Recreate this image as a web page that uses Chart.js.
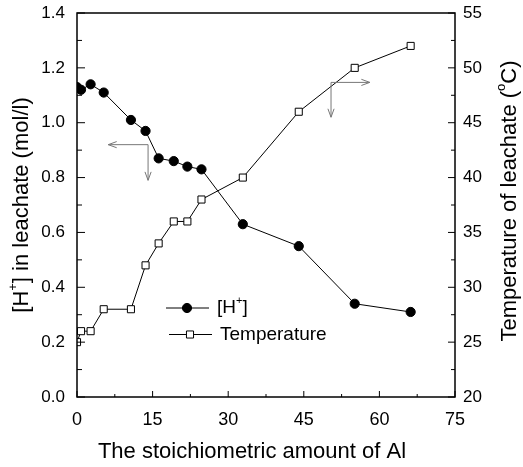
<!DOCTYPE html>
<html>
<head>
<meta charset="utf-8">
<style>
  html, body { margin: 0; padding: 0; background: #fff; }
  #wrap { width: 523px; height: 467px; }
</style>
</head>
<body>
<div id="wrap"><canvas id="chart"></canvas></div>
<script src="https://cdn.jsdelivr.net/npm/chart.js"></script>
<script>
// stoichiometric amount of Al (x)
const amountAl    = [0, 0.8, 2.7, 5.3, 10.7, 13.6, 16.2, 19.2, 21.9, 24.7, 32.9, 44.0, 55.1, 66.2];
// [H+] in leachate (mol/l), left axis
const hPlus       = [1.13, 1.12, 1.14, 1.11, 1.01, 0.97, 0.87, 0.86, 0.84, 0.83, 0.63, 0.55, 0.34, 0.31];
// temperature of leachate (°C), right axis
const temperature = [25, 26, 26, 28, 28, 32, 34, 36, 36, 38, 40, 46, 50, 52];

const xTicks    = [0, 15, 30, 45, 60, 75];
const hTicks    = [0.0, 0.2, 0.4, 0.6, 0.8, 1.0, 1.2, 1.4];
const tempTicks = [20, 25, 30, 35, 40, 45, 50, 55];

const FONT = '"Liberation Sans", Arial, sans-serif';

// little helper: text with superscript pieces
function richWidth(ctx, parts, size) {
  let w = 0;
  parts.forEach(p => {
    ctx.font = (p.sup ? Math.round(size * 0.6) : size) + 'px ' + FONT;
    w += ctx.measureText(p.t).width;
  });
  return w;
}
function drawRich(ctx, parts, cx, cy, size) {
  const w = richWidth(ctx, parts, size);
  let x = cx - w / 2;
  ctx.textBaseline = 'middle';
  ctx.textAlign = 'left';
  parts.forEach(p => {
    const s = p.sup ? Math.round(size * 0.6) : size;
    ctx.font = s + 'px ' + FONT;
    ctx.fillText(p.t, x, p.sup ? cy - size * 0.38 : cy);
    x += ctx.measureText(p.t).width;
  });
}

function arrow(ctx, x1, y1, x2, y2) {
  const a = Math.atan2(y2 - y1, x2 - x1), h = 9, s = 0.35;
  ctx.beginPath();
  ctx.moveTo(x1, y1); ctx.lineTo(x2, y2);
  ctx.moveTo(x2 - h * Math.cos(a - s), y2 - h * Math.sin(a - s));
  ctx.lineTo(x2, y2);
  ctx.lineTo(x2 - h * Math.cos(a + s), y2 - h * Math.sin(a + s));
  ctx.stroke();
}

// frame, inward ticks, arrows, legend and axis titles
const decor = {
  id: 'decor',
  afterDraw(chart) {
    const { ctx, chartArea: ca, scales } = chart;
    ctx.save();
    ctx.strokeStyle = '#000';
    ctx.fillStyle = '#000';
    ctx.lineWidth = 1.5;
    ctx.strokeRect(ca.left, ca.top, ca.right - ca.left, ca.bottom - ca.top);

    ctx.lineWidth = 1;
    ctx.beginPath();
    scales.x.ticks.forEach(t => {
      const px = scales.x.getPixelForValue(t.value);
      const len = xTicks.includes(t.value) ? 6 : 3;
      ctx.moveTo(px, ca.bottom); ctx.lineTo(px, ca.bottom - len);
    });
    scales.y.ticks.forEach(t => {
      const py = scales.y.getPixelForValue(t.value);
      const major = hTicks.some(v => Math.abs(v - t.value) < 1e-6);
      ctx.moveTo(ca.left, py); ctx.lineTo(ca.left + (major ? 8 : 5), py);
    });
    scales.y1.ticks.forEach(t => {
      const py = scales.y1.getPixelForValue(t.value);
      const major = tempTicks.includes(t.value);
      ctx.moveTo(ca.right, py); ctx.lineTo(ca.right - (major ? 7 : 4), py);
    });
    ctx.stroke();

    // axis pointers
    ctx.strokeStyle = '#777';
    ctx.lineWidth = 1;
    const X = v => scales.x.getPixelForValue(v), Y = v => scales.y.getPixelForValue(v);
    arrow(ctx, X(14.1), Y(0.92), X(6.2), Y(0.92));
    arrow(ctx, X(14.1), Y(0.92), X(14.1), Y(0.79));
    arrow(ctx, X(50.4), Y(1.147), X(58.1), Y(1.147));
    arrow(ctx, X(50.4), Y(1.147), X(50.4), Y(1.02));

    // legend
    const lx = ca.left + 89, ly = ca.top + 295;
    chart.data.datasets.forEach((ds, i) => {
      const y = ly + i * 26.5, x0 = lx + i * 3;
      ctx.strokeStyle = '#000';
      ctx.lineWidth = 1;
      ctx.beginPath(); ctx.moveTo(x0, y); ctx.lineTo(x0 + 43, y); ctx.stroke();
      ctx.fillStyle = ds.pointBackgroundColor;
      ctx.beginPath();
      if (ds.pointStyle === 'circle') {
        ctx.arc(x0 + 21, y, ds.pointRadius, 0, Math.PI * 2);
      } else {
        const s = ds.pointRadius * Math.SQRT1_2;
        ctx.rect(x0 + 21 - s, y - s, 2 * s, 2 * s);
      }
      ctx.fill(); ctx.stroke();
      ctx.fillStyle = '#000';
      const parts = ds.richLabel;
      const w = richWidth(ctx, parts, 19);
      drawRich(ctx, parts, x0 + 51 + w / 2, y, 19);
    });

    // axis titles
    ctx.fillStyle = '#000';
    ctx.save();
    ctx.translate(22, (ca.top + ca.bottom) / 2);
    ctx.rotate(-Math.PI / 2);
    drawRich(ctx, [{ t: '[H' }, { t: '+', sup: true }, { t: '] in leachate (mol/l)' }], 0, 0, 22);
    ctx.restore();

    ctx.save();
    ctx.translate(510, (ca.top + ca.bottom) / 2 - 4);
    ctx.rotate(-Math.PI / 2);
    drawRich(ctx, [{ t: 'Temperature of leachate (' }, { t: 'o', sup: true }, { t: 'C)' }], 0, 0, 22);
    ctx.restore();

    drawRich(ctx, [{ t: 'The stoichiometric amount of Al' }], 252, 452, 22);
    ctx.restore();
  }
};

const noPad = s => { s.paddingTop = 0; s.paddingBottom = 0; s.paddingLeft = 0; s.paddingRight = 0; };

const ctx = document.getElementById('chart').getContext('2d');
new Chart(ctx, {
  type: 'line',
  data: {
    datasets: [
      {
        label: '[H+]',
        richLabel: [{ t: '[H' }, { t: '+', sup: true }, { t: ']' }],
        data: amountAl.map((x, i) => ({ x, y: hPlus[i] })),
        yAxisID: 'y',
        borderColor: '#000',
        borderWidth: 1,
        pointStyle: 'circle',
        pointRadius: 4.6,
        pointBackgroundColor: '#000',
        pointBorderColor: '#000',
        pointBorderWidth: 1
      },
      {
        label: 'Temperature',
        richLabel: [{ t: 'Temperature' }],
        data: amountAl.map((x, i) => ({ x, y: temperature[i] })),
        yAxisID: 'y1',
        borderColor: '#000',
        borderWidth: 1,
        pointStyle: 'rect',
        pointRadius: 5,
        pointBackgroundColor: '#fff',
        pointBorderColor: '#000',
        pointBorderWidth: 1
      }
    ]
  },
  options: {
    responsive: true,
    maintainAspectRatio: false,
    animation: false,
    layout: { padding: { top: 13, left: 0, right: 0, bottom: 0 } },
    plugins: { legend: { display: false }, tooltip: { enabled: false } },
    scales: {
      x: {
        type: 'linear', min: 0, max: 75,
        grid: { display: false, drawTicks: false },
        border: { display: false },
        afterFit: s => { s.height = 70; noPad(s); },
        ticks: {
          stepSize: 7.5, autoSkip: false, maxRotation: 0, padding: 12,
          color: '#000', font: { family: FONT, size: 18 },
          callback: v => xTicks.includes(v) ? String(v) : ''
        }
      },
      y: {
        position: 'left', min: 0, max: 1.4,
        grid: { display: false, drawTicks: false },
        border: { display: false },
        afterFit: s => { s.width = 77; noPad(s); },
        ticks: {
          stepSize: 0.1, autoSkip: false, padding: 12,
          color: '#000', font: { family: FONT, size: 17 },
          callback: v => hTicks.some(h => Math.abs(h - v) < 1e-6) ? v.toFixed(1) : ''
        }
      },
      y1: {
        position: 'right', min: 20, max: 55,
        grid: { display: false, drawTicks: false },
        border: { display: false },
        afterFit: s => { s.width = 68; noPad(s); },
        ticks: {
          stepSize: 2.5, autoSkip: false, padding: 8,
          color: '#000', font: { family: FONT, size: 17 },
          callback: v => tempTicks.includes(v) ? String(v) : ''
        }
      }
    }
  },
  plugins: [decor]
});
</script>
</body>
</html>
